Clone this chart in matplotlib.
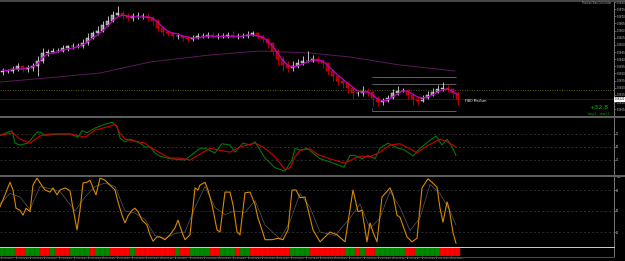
import numpy as np
import matplotlib
matplotlib.use("Agg")
from matplotlib import pyplot as plt
from matplotlib.lines import Line2D
from matplotlib.transforms import blended_transform_factory

plt.rcParams['font.family'] = ['Liberation Sans Narrow', 'DejaVu Sans']

BASE = 1.0800  # price = BASE + pips / 10000

# candles, one value per bar (pips above BASE)
close_pips = [32, 32, 33, 35, 33, 34, 35, 39, 44, 45,
              46, 46, 48, 49, 49, 49, 51, 55, 58, 60,
              64, 67, 71, 72, 70, 69, 70, 70, 70, 69,
              67, 62, 59, 58, 56, 56, 55, 54, 55, 56,
              56, 57, 56, 56, 56, 57, 56, 56, 56, 57,
              58, 56, 54, 51, 46, 40, 36, 34, 35, 37,
              39, 39, 40, 39, 37, 32, 28, 25, 23, 20,
              16, 16, 18, 17, 13, 10, 11, 13, 16, 18,
              18, 15, 12, 11, 13, 15, 17, 19, 20, 19,
              16, 12]
up_wick = [2, 1, 2, 2, 1, 2, 2, 3, 4, 2,
           2, 2, 2, 1, 2, 2, 3, 3, 2, 3,
           3, 3, 3, 5, 2, 2, 2, 3, 2, 2,
           1, 1, 1, 1, 1, 2, 1, 1, 2, 2,
           2, 2, 2, 2, 2, 2, 3, 2, 2, 3,
           2, 1, 1, 1, 1, 1, 2, 3, 4, 3,
           3, 7, 3, 2, 1, 1, 1, 1, 1, 1,
           1, 2, 3, 2, 1, 1, 2, 2, 3, 3,
           2, 1, 1, 2, 2, 3, 3, 3, 4, 2,
           1, 1]
dn_wick = [2, 2, 2, 1, 2, 2, 2, 7, 2, 2,
           1, 1, 1, 2, 2, 1, 1, 1, 1, 1,
           1, 1, 1, 1, 2, 2, 2, 2, 2, 2,
           3, 3, 3, 2, 2, 2, 2, 2, 1, 1,
           1, 1, 1, 2, 1, 1, 1, 2, 1, 1,
           1, 2, 2, 3, 3, 4, 4, 3, 2, 1,
           1, 1, 1, 2, 3, 3, 3, 3, 3, 4,
           4, 2, 2, 3, 6, 3, 2, 1, 1, 1,
           1, 3, 4, 3, 1, 1, 1, 1, 1, 2,
           3, 4]
ma_fast = [32.4, 32, 33, 33, 33, 34, 34.5, 36.6, 41, 43.6,
           44.3, 45, 46.4, 47, 47.8, 48.5, 50, 52, 54.8, 57,
           59.7, 63, 66.7, 69.5, 70.9, 70.2, 69.5, 69.5, 69.5, 69.5,
           68.8, 66, 62.5, 59.7, 58.3, 57.6, 56.2, 55.5, 54.8, 54.8,
           55.5, 56.2, 56, 56, 56, 56, 56, 56, 56, 56.9,
           56.9, 56.2, 55.5, 52.7, 49.2, 44.3, 39.4, 35.9, 34.5, 35.2,
           36.6, 38, 39.4, 39.4, 38.7, 35.9, 32.4, 28.9, 26.1, 23.3,
           20.5, 17.7, 17, 17, 14.9, 12.1, 10.7, 11.4, 13.5, 15.6,
           17.7, 17.7, 15.6, 13.5, 12.8, 13.5, 14.9, 17, 18.4, 19.1,
           17.7, 14.9]
ma_slow_t = [0, 10, 20, 30, 42, 52, 62, 70, 80, 91]
ma_slow = [24, 27, 30.3, 38, 42.9, 45.7, 44.3, 41.5, 35.9, 31.7]

olive_level = 18.4
fibo_levels = [27.5, 22.6, 3.7]
fibo_span = (74.4, 91.2)

# oscillator 1 (time in bars from the left edge)
rsi_t = [0, 2.6, 4, 6, 8, 10, 12, 14, 16, 17,
         19, 22, 23, 24, 25, 27, 29, 30, 32, 34,
         36, 38, 40, 42, 44, 46, 48, 51, 53, 55,
         57, 58, 59, 60, 62, 63.6, 66, 69, 71, 72.4,
         74, 76, 78, 80, 82, 83.4, 85, 88, 89.4, 91.2]
rsi_slow = [68, 72, 62, 56, 67, 70, 70, 70, 67, 65,
            76, 82, 85, 71, 62, 59, 56, 50, 41, 33,
            33, 30, 39, 48, 45, 42, 50, 56, 48, 35,
            15, 18, 35, 45, 47, 38, 32, 25, 33, 36,
            35, 42, 53, 55, 47, 41, 50, 62, 58, 50]
rsi_fast_t = [0, 2.4, 3, 4, 5.6, 7.4, 8, 9, 12, 14,
              15.6, 16.4, 17.4, 19, 21, 22.4, 23.4, 24, 25, 26,
              27, 28, 29, 30, 31, 32, 34, 37, 39, 40,
              41, 43, 44.4, 46, 47, 48.6, 50, 51, 53, 55,
              57, 58.4, 59, 60, 61.4, 64, 66, 68.8, 70, 71,
              72.4, 73.6, 75, 76, 77.6, 79, 81, 82.6, 84, 85.6,
              87.2, 88.4, 89.4, 90.4, 91.2]
rsi_fast = [68, 75, 56, 53, 56, 73, 73, 68, 70, 70,
            65, 75, 72, 79, 85, 88, 82, 64, 58, 62,
            59, 56, 50, 50, 41, 36, 32, 30, 42, 48,
            48, 41, 55, 53, 42, 56, 53, 58, 33, 18,
            13, 30, 48, 45, 48, 32, 27, 19, 37, 37,
            32, 37, 32, 48, 56, 50, 45, 36, 48, 58,
            67, 53, 62, 50, 37]
rsi_levels = [30, 50, 70]

# oscillator 2
stoch_t = [0, 1, 2, 2.6, 3.2, 4, 4.6, 5.2, 6, 6.6,
           7.4, 8.4, 9, 10, 10.6, 11.4, 12, 13, 14, 14.6,
           15.4, 16, 16.6, 17.4, 18, 18.6, 19.2, 20, 21, 22,
           23, 23.6, 24.4, 25, 25.6, 26.4, 27, 27.6, 28.4, 29.4,
           30, 30.6, 31.4, 32, 33, 34, 35, 35.6, 36.4, 37,
           38, 39, 39.6, 40, 41, 41.6, 42.4, 43.4, 44, 45,
           46, 46.6, 47.4, 48, 49, 50, 51, 51.6, 52.4, 53,
           54.4, 55.6, 56.6, 57.6, 58.4, 59.2, 60, 61, 62.6, 64,
           66, 67.4, 69, 70.6, 71.6, 72.4, 73.4, 74, 74.6, 75.4,
           76.4, 78, 78.6, 79.4, 80, 81.4, 82.4, 83.4, 84.4, 85.6,
           86.4, 87.4, 88, 88.6, 89.4, 89.8, 90.6, 91.2]
stoch_main = [56, 73, 91, 80, 54, 51, 44, 54, 49, 87,
              97, 86, 80, 77, 83, 73, 80, 83, 79, 54,
              23, 51, 90, 91, 94, 83, 73, 97, 94, 87,
              80, 63, 44, 33, 43, 51, 54, 49, 37, 30,
              16, 7, 13, 13, 9, 16, 26, 37, 20, 9,
              16, 83, 80, 87, 91, 80, 59, 23, 20, 77,
              77, 59, 20, 16, 76, 77, 59, 40, 23, 9,
              9, 11, 9, 23, 80, 80, 69, 70, 23, 6,
              20, 16, 6, 80, 49, 51, 6, 33, 20, 6,
              70, 83, 73, 44, 41, 13, 6, 11, 83, 96,
              91, 84, 54, 34, 63, 54, 19, 4]
stoch_sig_t = [0, 2, 4, 6, 8, 10, 12, 15, 17, 19,
               21, 23, 25, 27, 29, 31, 33, 35, 37, 39,
               41, 43, 45, 47, 49, 51, 53, 56, 58, 60,
               62, 64, 67, 70, 72, 74, 76, 78, 80, 82,
               84, 86, 88, 90, 91.2]
stoch_sig = [60, 75, 70, 52, 85, 82, 78, 50, 70, 85,
             90, 85, 50, 47, 38, 15, 11, 18, 20, 55,
             85, 55, 45, 50, 48, 65, 30, 10, 35, 75,
             55, 20, 15, 40, 60, 25, 40, 78, 55, 22,
             40, 88, 75, 50, 30]
stoch_levels = [20, 50, 80]

# histogram strip, one flag per bar
strip = ("GGGRRGGGRR" "GRRRGGGGRG" "GGRRRRGRRR" "RRRRRGRRGG" "GGRRGGGRGG"
         "RRRRRRRRGG" "GGRRRRRRRG" "GRGRRGGGGG" "GRRGGGGGRR" "RR")

time_labels = ["3 Apr 2024", "3 Apr 02:00", "3 Apr 04:00", "3 Apr 06:00",
               "3 Apr 08:00", "3 Apr 10:00", "3 Apr 12:00", "3 Apr 14:00",
               "3 Apr 16:00", "3 Apr 18:00", "3 Apr 20:00", "3 Apr 22:00",
               "4 Apr 2024", "4 Apr 02:00", "4 Apr 04:00", "4 Apr 06:00",
               "4 Apr 08:00", "4 Apr 10:00", "4 Apr 12:00", "4 Apr 14:00",
               "4 Apr 16:00", "4 Apr 18:00", "4 Apr 20:00", "4 Apr 22:00",
               "5 Apr 2024", "5 Apr 02:00", "5 Apr 04:00", "5 Apr 06:00",
               "5 Apr 08:00", "5 Apr 10:00", "5 Apr 12:00", "5 Apr 14:00"]

W, H = 625, 261
AX_RIGHT = 614
BAR_PX = 5.0

fig = plt.figure(figsize=(W / 100, H / 100), dpi=100, facecolor='black')


def panel(top, bottom):
    ax = fig.add_axes([0, 1 - bottom / H, AX_RIGHT / W, (bottom - top) / H])
    ax.set_facecolor('black')
    ax.set_xlim(0, AX_RIGHT / BAR_PX)
    for s in ['top', 'left', 'bottom']:
        ax.spines[s].set_visible(False)
    ax.spines['right'].set_color('#8a8a8a')
    ax.spines['right'].set_linewidth(0.6)
    ax.yaxis.tick_right()
    ax.tick_params(axis='y', colors='#9a9a9a', labelcolor='#c8c8c8', labelsize=1.8,
                   length=1.2, width=0.4, pad=0.4)
    ax.set_xticks([])
    return ax


def px2p(px):
    return px * 0.72


# ---- main price panel
ax1 = panel(2, 116)
ax1.set_ylim(BASE + 0.2 / 1e4, BASE + 80 / 1e4)
ticks = BASE + np.arange(5, 81, 5) / 1e4
ax1.set_yticks(ticks)
ax1.set_yticklabels([f"{v:.5f}" for v in ticks])

c = np.array(close_pips, float)
o = np.r_[c[0] - 1, c[:-1]]
hi = np.maximum(o, c) + np.array(up_wick)
lo = np.minimum(o, c) - np.array(dn_wick)
t = np.arange(len(c)) + 0.5
up = c >= o

ax1.plot(ma_slow_t, BASE + np.array(ma_slow) / 1e4, color='#5a1a5a', lw=0.7)
ax1.axhline(BASE + olive_level / 1e4, color='#5c5c14', lw=0.7, ls=(0, (1, 1.5)))
ax1.axhline(BASE + c[-1] / 1e4, color='#262626', lw=0.6)
for lv in fibo_levels:
    ax1.hlines(BASE + lv / 1e4, fibo_span[0], fibo_span[1], color='#6e6e6e', lw=0.6)
ax1.vlines(fibo_span[0], BASE + fibo_levels[2] / 1e4, BASE + 6 / 1e4, color='#6e6e6e', lw=0.5)

ax1.vlines(t, BASE + lo / 1e4, BASE + hi / 1e4,
           colors=np.where(up, '#d8d8d8', '#d00000'), lw=0.6)
ax1.bar(t, (c - o) / 1e4, bottom=BASE + o / 1e4, width=0.45,
        color=np.where(up, '#8c8c8c', '#9a0000'),
        edgecolor=np.where(up, '#ffffff', '#ff1a1a'), lw=0.3)
ax1.plot(t, BASE + np.array(ma_fast) / 1e4, color='#c000c8', lw=0.9)

tr = blended_transform_factory(ax1.transAxes, ax1.transData)
ax1.text(1.001, BASE + c[-1] / 1e4, f"{BASE + c[-1] / 1e4:.5f}", transform=tr,
         fontsize=1.8, color='black', va='center', ha='left',
         bbox=dict(fc='white', ec='none', pad=0.3))

# ---- oscillator 1
ax2 = panel(118, 175)
ax2.set_ylim(6.9, 94.6)
for lv in rsi_levels:
    ax2.axhline(lv, color='#3c3c3c', lw=0.5, ls=(0, (3, 3)))
ax2.set_yticks(rsi_levels)
ax2.set_yticklabels([str(v) for v in rsi_levels])
ax2.plot(rsi_fast_t, rsi_fast, color='#007a00', lw=0.8)
ax2.plot(rsi_t, rsi_slow, color='#d00000', lw=0.8)

# ---- oscillator 2
ax3 = panel(176, 246)
ax3.set_ylim(0, 100)
for lv in stoch_levels:
    ax3.axhline(lv, color='#3c3c3c', lw=0.5, ls=(0, (3, 3)))
ax3.set_yticks(stoch_levels + [100])
ax3.set_yticklabels([str(v) for v in stoch_levels + [100]])
ax3.plot(stoch_sig_t, stoch_sig, color='#5a5a5a', lw=0.5)
ax3.plot(stoch_t, stoch_main, color='#d98a00', lw=0.8)

# ---- histogram strip + time axis
ax4 = panel(247, 256)
ax4.set_ylim(0, 1)
ax4.set_yticks([])
cols = ['#008a00' if s == 'G' else '#ff0000' for s in strip]
edges = ['#006400' if s == 'G' else '#c80000' for s in strip]
ax4.bar(t, 1, width=1.0, bottom=0, color=cols, edgecolor=edges, lw=0.25)
xt = np.arange(len(time_labels)) * 2.9 + 0.2
ax4.set_xticks(xt)
ax4.set_xticklabels(time_labels, ha='left')
ax4.tick_params(axis='x', colors='#9a9a9a', labelcolor='#bdbdbd', labelsize=1.5,
                length=1.2, width=0.4, pad=0.4)

# ---- separators
def hsep(y, color, lw_px, x1=1.0):
    fig.add_artist(Line2D([0, x1], [1 - y / H, 1 - y / H], color=color,
                          lw=px2p(lw_px), transform=fig.transFigure))

hsep(0.6, '#5e5e5e', 1.5)
hsep(116.8, '#5e5e5e', 2)
hsep(175.6, '#5e5e5e', 2)
hsep(246.5, '#c8c8c8', 1, AX_RIGHT / W)
hsep(256.5, '#5e5e5e', 0.8, AX_RIGHT / W)

# ---- overlay texts
def ftext(x, y, s, **kw):
    fig.text(x / W, 1 - y / H, s, **kw)

ftext(465, 101, 'FIBO Medium', color='white', fontsize=2.3, va='center', ha='left')
ftext(599, 107.5, '+32.8', color='#00c000', fontsize=4.5, va='center', ha='center')
ftext(599, 113.5, 'long:0    short:1', color='#00b000', fontsize=1.9, va='center', ha='center')
ftext(611, 3, 'Position Size Calculator', color='#b4b4b4', fontsize=1.8, va='center', ha='right')

fig.savefig('out.png', dpi=100, facecolor='black')
